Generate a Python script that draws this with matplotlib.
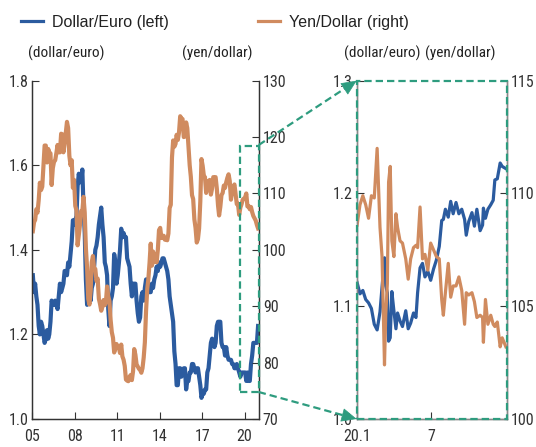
import math
import matplotlib
matplotlib.use('Agg')
import matplotlib.pyplot as plt
import matplotlib.dates as mdates
import pandas as pd
from matplotlib.patches import Rectangle, FancyArrowPatch
from matplotlib.lines import Line2D

plt.rcParams['font.family'] = ['Roboto Condensed', 'DejaVu Sans']

BLUE = '#2b5b9f'
ORANGE = '#d08b5f'
GREEN = '#2e9c7f'
AXC = '#333333'

# ---------------- data: monthly, 2005-2020 ----------------
eur_monthly = [
    1.34, 1.30, 1.32, 1.29, 1.27, 1.22, 1.20, 1.23, 1.22, 1.20, 1.18, 1.19,   # 2005
    1.21, 1.19, 1.20, 1.23, 1.28, 1.27, 1.27, 1.28, 1.27, 1.26, 1.29, 1.32,   # 2006
    1.30, 1.31, 1.32, 1.35, 1.35, 1.34, 1.37, 1.36, 1.39, 1.42, 1.47, 1.46,   # 2007
    1.47, 1.48, 1.55, 1.58, 1.56, 1.56, 1.59, 1.50, 1.44, 1.33, 1.27, 1.34,   # 2008
    1.32, 1.28, 1.31, 1.32, 1.36, 1.40, 1.41, 1.43, 1.46, 1.48, 1.50, 1.46,   # 2009
    1.43, 1.37, 1.36, 1.34, 1.26, 1.22, 1.28, 1.29, 1.31, 1.39, 1.37, 1.32,   # 2010
    1.34, 1.37, 1.40, 1.45, 1.43, 1.44, 1.43, 1.43, 1.38, 1.37, 1.36, 1.32,   # 2011
    1.29, 1.32, 1.32, 1.32, 1.28, 1.25, 1.23, 1.24, 1.29, 1.30, 1.28, 1.31,   # 2012
    1.33, 1.33, 1.30, 1.30, 1.30, 1.32, 1.31, 1.33, 1.34, 1.36, 1.35, 1.37,   # 2013
    1.36, 1.37, 1.38, 1.38, 1.37, 1.36, 1.35, 1.33, 1.29, 1.27, 1.25, 1.23,   # 2014
    1.16, 1.13, 1.08, 1.08, 1.12, 1.12, 1.10, 1.11, 1.12, 1.12, 1.07, 1.09,   # 2015
    1.09, 1.11, 1.11, 1.13, 1.13, 1.12, 1.11, 1.12, 1.12, 1.10, 1.08, 1.05,   # 2016
    1.06, 1.06, 1.07, 1.07, 1.11, 1.12, 1.15, 1.18, 1.19, 1.18, 1.17, 1.18,   # 2017
    1.22, 1.23, 1.23, 1.23, 1.18, 1.17, 1.17, 1.15, 1.17, 1.15, 1.14, 1.14,   # 2018
    1.14, 1.13, 1.13, 1.12, 1.12, 1.13, 1.12, 1.11, 1.10, 1.11, 1.11, 1.11,   # 2019
    1.11, 1.09, 1.11, 1.09, 1.09, 1.13, 1.15, 1.18, 1.18, 1.18, 1.18, 1.22,   # 2020
]
jpy_monthly = [
    103.3, 104.9, 105.3, 107.2, 106.6, 108.8, 111.9, 110.6, 111.2, 114.8, 118.5, 118.5,  # 2005
    115.5, 117.9, 117.3, 117.1, 111.5, 114.5, 115.6, 115.9, 117.2, 118.6, 117.3, 117.3,  # 2006
    120.6, 120.5, 117.3, 118.8, 120.8, 122.7, 121.6, 116.7, 115.0, 115.9, 111.0, 112.4,  # 2007
    107.8, 107.0, 100.8, 102.6, 104.4, 106.9, 106.8, 109.4, 106.6, 100.3, 96.8, 91.3,    # 2008
    90.3, 92.7, 97.8, 98.9, 96.6, 96.6, 94.5, 94.9, 91.3, 90.4, 89.2, 89.9,              # 2009
    91.1, 90.2, 90.7, 93.5, 91.8, 90.9, 87.6, 85.4, 84.4, 81.8, 82.5, 83.3,              # 2010
    82.6, 82.6, 81.7, 83.2, 81.1, 80.5, 79.4, 77.0, 76.8, 76.7, 77.5, 77.8,              # 2011
    76.9, 78.5, 82.4, 81.4, 79.7, 79.3, 78.9, 78.7, 78.2, 79.0, 80.9, 83.6,              # 2012
    89.2, 93.1, 94.8, 97.7, 101.1, 97.2, 99.7, 97.8, 99.2, 97.8, 100.0, 103.5,           # 2013
    103.9, 102.1, 102.3, 102.5, 101.8, 102.1, 101.7, 102.9, 107.4, 108.0, 116.4, 119.4,  # 2014
    118.3, 118.8, 120.4, 119.5, 120.8, 123.7, 123.3, 123.2, 120.0, 120.1, 122.6, 121.6,  # 2015
    118.2, 115.0, 113.0, 109.7, 109.0, 105.4, 103.9, 101.3, 101.9, 103.8, 108.6, 116.1,  # 2016
    114.9, 113.1, 112.9, 110.1, 112.2, 110.9, 112.4, 109.8, 110.9, 112.9, 112.8, 112.9,  # 2017
    110.9, 107.9, 106.1, 107.6, 109.7, 110.1, 111.4, 111.0, 112.0, 112.8, 113.4, 112.2,  # 2018
    108.9, 110.4, 111.2, 111.6, 109.9, 108.1, 108.2, 106.2, 107.5, 108.1, 108.9, 109.1,  # 2019
    109.3, 110.0, 107.7, 107.8, 107.2, 107.6, 106.7, 106.0, 105.6, 105.2, 104.4, 103.8,  # 2020
]
months = pd.date_range('2005-01-01', periods=len(eur_monthly), freq='MS') + pd.Timedelta(days=14)

# ---------------- data: 2020 detail ----------------
dates_2020 = [
    '2020-01-02', '2020-01-09', '2020-01-16', '2020-01-23', '2020-01-30',
    '2020-02-06', '2020-02-13', '2020-02-20', '2020-02-27', '2020-03-03',
    '2020-03-09', '2020-03-12', '2020-03-16', '2020-03-19', '2020-03-23',
    '2020-03-27', '2020-04-01', '2020-04-06', '2020-04-10', '2020-04-16',
    '2020-04-22', '2020-04-30', '2020-05-06', '2020-05-12', '2020-05-19',
    '2020-05-25', '2020-05-29', '2020-06-04', '2020-06-10', '2020-06-16',
    '2020-06-23', '2020-06-30', '2020-07-07', '2020-07-14', '2020-07-21',
    '2020-07-27', '2020-07-31', '2020-08-05', '2020-08-12', '2020-08-18',
    '2020-08-24', '2020-08-31', '2020-09-07', '2020-09-14', '2020-09-21',
    '2020-09-25', '2020-10-01', '2020-10-09', '2020-10-15', '2020-10-21',
    '2020-10-29', '2020-11-04', '2020-11-06', '2020-11-11', '2020-11-17',
    '2020-11-24', '2020-11-30', '2020-12-04', '2020-12-10', '2020-12-17',
    '2020-12-22', '2020-12-31',
]
eur_2020 = [
    1.121, 1.111, 1.114, 1.106, 1.103,
    1.098, 1.084, 1.079, 1.095, 1.117,
    1.143, 1.118, 1.112, 1.069, 1.072,
    1.113, 1.096, 1.080, 1.094, 1.087,
    1.082, 1.096, 1.080, 1.085, 1.094,
    1.090, 1.112, 1.134, 1.138, 1.126,
    1.131, 1.123, 1.133, 1.141, 1.153,
    1.176, 1.177, 1.186, 1.179, 1.193,
    1.182, 1.192, 1.182, 1.186, 1.177,
    1.163, 1.175, 1.183, 1.171, 1.186,
    1.167, 1.172, 1.187, 1.178, 1.186,
    1.190, 1.194, 1.212, 1.213, 1.227,
    1.224, 1.222,
]
jpy_2020 = [
    108.6, 109.5, 109.9, 109.5, 108.9,
    109.9, 109.8, 112.0, 108.5, 107.2,
    102.4, 104.6, 106.0, 110.5, 111.2,
    107.9, 107.2, 109.1, 108.5, 107.9,
    107.8, 107.1, 106.2, 107.1, 107.6,
    107.7, 107.6, 109.4, 107.1, 107.3,
    106.6, 107.8, 107.5, 107.2, 107.1,
    105.3, 104.6, 105.6, 106.9, 105.4,
    105.9, 105.9, 106.3, 105.7, 104.2,
    105.6, 105.5, 105.6, 105.2, 104.5,
    104.6, 104.5, 103.4, 105.3, 104.2,
    104.6, 104.2, 104.1, 104.3, 103.2,
    103.6, 103.2,
]
d2020 = pd.to_datetime(dates_2020)

left_ticks = [1.0, 1.2, 1.4, 1.6, 1.8]
yen_ticks = [70, 80, 90, 100, 110, 120, 130]
zoom_left_ticks = [1.0, 1.1, 1.2, 1.3]
zoom_yen_ticks = [100, 105, 110, 115]
year_ticks = ['2005', '2008', '2011', '2014', '2017', '2020']
year_labels = ['05', '08', '11', '14', '17', '20']
zoom_ticks = ['2020-01-01', '2020-07-01']
zoom_labels = ['20.1', '7']

W, H = 536, 447
fig = plt.figure(figsize=(W / 100, H / 100), dpi=100)

def px(x, y):
    return (x / W, 1 - y / H)

ax1 = fig.add_axes([32.3 / W, 28 / H, 226.4 / W, 338.3 / H])
ax1b = ax1.twinx()
ax2 = fig.add_axes([356.7 / W, 28 / H, 150 / W, 338.3 / H])
ax2b = ax2.twinx()

TS = 11.5
for a in (ax1, ax1b, ax2, ax2b):
    a.spines['top'].set_visible(False)
    a.tick_params(direction='in', length=5, width=0.8, colors=AXC, labelsize=TS, pad=3)
    a.tick_params(axis='x', pad=7)
for a in (ax1, ax1b):
    for s in a.spines.values():
        s.set_color(AXC)
        s.set_linewidth(0.9)
for a in (ax2, ax2b):
    for s in a.spines.values():
        s.set_color('#888888')
        s.set_linewidth(1.0)

# left panel
ax1.plot(months, eur_monthly, color=BLUE, lw=3.0, solid_joinstyle='round')
ax1b.plot(months, jpy_monthly, color=ORANGE, lw=3.0, solid_joinstyle='round')
ax1.set_xlim(pd.Timestamp('2005-01-01'), pd.Timestamp('2020-12-31'))
ax1.set_ylim(1.0, 1.8)
ax1b.set_ylim(70, 130)
ax1.set_yticks(left_ticks)
ax1.set_yticklabels([f'{v:.1f}' for v in left_ticks])
ax1b.set_yticks(yen_ticks)
ax1b.set_yticklabels([str(v) for v in yen_ticks])
ax1.set_xticks(pd.to_datetime(year_ticks))
ax1.set_xticklabels(year_labels)

# right panel
ax2.plot(d2020, eur_2020, color=BLUE, lw=2.3, solid_joinstyle='round')
ax2b.plot(d2020, jpy_2020, color=ORANGE, lw=2.3, solid_joinstyle='round')
ax2.set_xlim(pd.Timestamp('2020-01-01'), pd.Timestamp('2021-01-02'))
ax2.set_ylim(1.0, 1.3)
ax2b.set_ylim(100, 115)
ax2.set_yticks(zoom_left_ticks)
ax2.set_yticklabels([f'{v:.1f}' for v in zoom_left_ticks])
ax2b.set_yticks(zoom_yen_ticks)
ax2b.set_yticklabels([str(v) for v in zoom_yen_ticks])
ax2.set_xticks(pd.to_datetime(zoom_ticks))
ax2.set_xticklabels(zoom_labels)

DASH = (0, (3.3, 1.8))
# dashed box in left panel
bx0 = mdates.date2num(pd.Timestamp('2019-09-05'))
bx1 = mdates.date2num(pd.Timestamp('2020-12-31'))
ax1b.add_patch(Rectangle((bx0, 74.8), bx1 - bx0, 118.4 - 74.8, fill=False,
                         edgecolor=GREEN, lw=1.6, linestyle=DASH, clip_on=False, zorder=5))
# dashed box around right panel
ax2b.add_patch(Rectangle((0, 0), 1, 1, transform=ax2b.transAxes, fill=False,
                         edgecolor=GREEN, lw=1.6, linestyle=DASH, clip_on=False, zorder=5))

# connecting arrows
def arrow(p0, p1):
    dx, dy = p1[0] - p0[0], p1[1] - p0[1]
    L = math.hypot(dx, dy)
    ux, uy = dx / L, dy / L
    hl = 14
    base = (p1[0] - ux * hl, p1[1] - uy * hl)
    fig.add_artist(Line2D([p0[0] / W, base[0] / W], [1 - p0[1] / H, 1 - base[1] / H],
                          transform=fig.transFigure, color=GREEN, lw=1.6, linestyle=DASH))
    fig.add_artist(FancyArrowPatch(px(*base), px(*p1), transform=fig.transFigure,
                                   arrowstyle='-|>,head_length=1.0,head_width=0.45',
                                   mutation_scale=10, color=GREEN, lw=0.5,
                                   shrinkA=0, shrinkB=0))

arrow((258.7, 145), (356.7, 80.7))
arrow((258.7, 392), (356.7, 419))

# unit labels
UFS = 11
UC = '#222222'
fig.text(*px(66, 53), '(dollar/euro)', ha='center', va='center', fontsize=UFS, color=UC)
fig.text(*px(217, 53), '(yen/dollar)', ha='center', va='center', fontsize=UFS, color=UC)
fig.text(*px(382.5, 53), '(dollar/euro)', ha='center', va='center', fontsize=UFS, color=UC)
fig.text(*px(460, 53), '(yen/dollar)', ha='center', va='center', fontsize=UFS, color=UC)

# legend
h1 = Line2D([], [], color=BLUE, lw=2.3)
h2 = Line2D([], [], color=ORANGE, lw=2.3)
leg = fig.legend([h1, h2], ['Dollar/Euro (left)', 'Yen/Dollar (right)'],
                 loc='center left', bbox_to_anchor=px(21, 22), ncol=2, frameon=False,
                 borderpad=0, borderaxespad=0, handlelength=1.38, handletextpad=0.56,
                 columnspacing=5.6, prop={'family': ['Liberation Sans', 'DejaVu Sans'], 'size': 11.5})
for t in leg.get_texts():
    t.set_color('#222222')

fig.savefig('out.png', dpi=100)
